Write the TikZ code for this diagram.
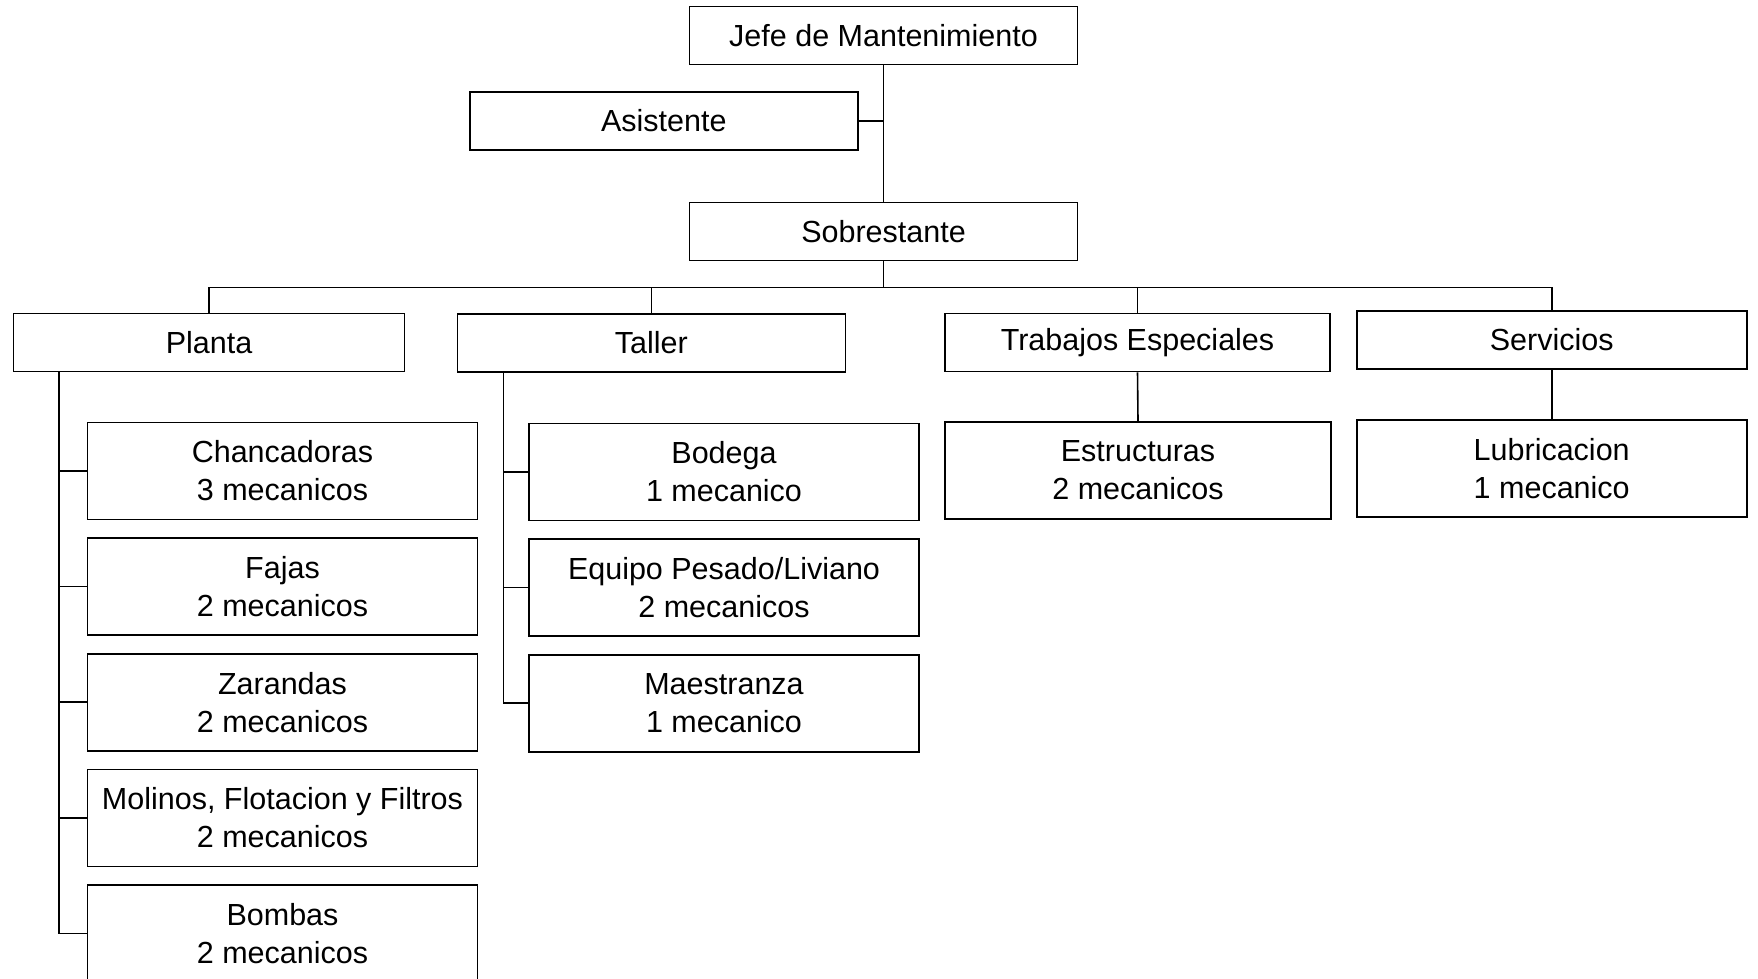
\documentclass[tikz,border=0pt]{standalone}
\usepackage{fontspec}
\setmainfont{Liberation Sans}
\usetikzlibrary{positioning,calc}
\tikzset{
  orgbox/.style={draw, line width=1.6pt, minimum width=388pt, minimum height=58pt,
                 inner sep=2pt, align=center, font=\fontsize{30.5}{38}\selectfont},
  subbox/.style={orgbox, minimum width=390pt, minimum height=97pt},
  orgline/.style={line width=1.6pt}
}
\begin{document}
\begin{tikzpicture}[x=1pt, y=1pt, node distance=17pt]
\useasboundingbox (0,0) rectangle (1758,-979);
% top levels
\node[orgbox] (jefe) at (883.5,-35.5) {Jefe de Mantenimiento};
\node[orgbox] (asist) at (663.8,-121) {Asistente};
\node[orgbox] (sobre) at (883.5,-231.5) {Sobrestante};
% areas
\node[orgbox, minimum width=391pt] (planta) at (209,-342.5) {Planta};
\node[orgbox] (taller) at (651.4,-343) {Taller};
\node[orgbox, minimum width=385pt] (trab) at (1137.5,-342.5) {Trabajos Especiales};
\node[orgbox, minimum width=390pt] (serv) at (1551.7,-339.7) {Servicios};
% Planta
\node[subbox] (chanc) at (282.5,-471) {Chancadoras\\3 mecanicos};
\node[subbox, below=of chanc] (fajas) {Fajas\\2 mecanicos};
\node[subbox, below=of fajas] (zar) {Zarandas\\2 mecanicos};
\node[subbox, below=of zar] (mol) {Molinos, Flotacion y Filtros\\2 mecanicos};
\node[subbox, below=of mol] (bomb) {Bombas\\2 mecanicos};
% Taller
\node[subbox] (bodega) at (724,-472) {Bodega\\1 mecanico};
\node[subbox, below=of bodega] (equipo) {Equipo Pesado/Liviano\\2 mecanicos};
\node[subbox, below=of equipo] (maestr) {Maestranza\\1 mecanico};
% Trabajos Especiales, Servicios
\node[subbox, minimum width=386pt] (estr) at (1138,-470.5) {Estructuras\\2 mecanicos};
\node[subbox] (lub) at (1551.7,-468.6) {Lubricacion\\1 mecanico};
% connectors
\coordinate (bus) at ($(sobre.south)+(0,-26)$);
\coordinate (pspine) at ($(planta.south west)+(46,0)$);
\coordinate (tspine) at ($(taller.south west)+(47,0)$);
\draw[orgline] (jefe.south) -- (sobre.north);
\draw[orgline] (asist.east) -- (asist.east -| jefe.south);
\draw[orgline] (sobre.south) -- (bus);
\draw[orgline] (planta.north) |- (bus) -| (serv.north);
\draw[orgline] (taller.north) |- (bus);
\draw[orgline] (trab.north) |- (bus);
\draw[orgline] (pspine) |- (bomb.west);
\draw[orgline] (chanc.west) -| (pspine);
\draw[orgline] (fajas.west) -| (pspine);
\draw[orgline] (zar.west) -| (pspine);
\draw[orgline] (mol.west) -| (pspine);
\draw[orgline] (tspine) |- (maestr.west);
\draw[orgline] (bodega.west) -| (tspine);
\draw[orgline] (equipo.west) -| (tspine);
\draw[orgline] (trab.south) -- (estr.north);
\draw[orgline] (serv.south) -- (lub.north);
\end{tikzpicture}
\end{document}
